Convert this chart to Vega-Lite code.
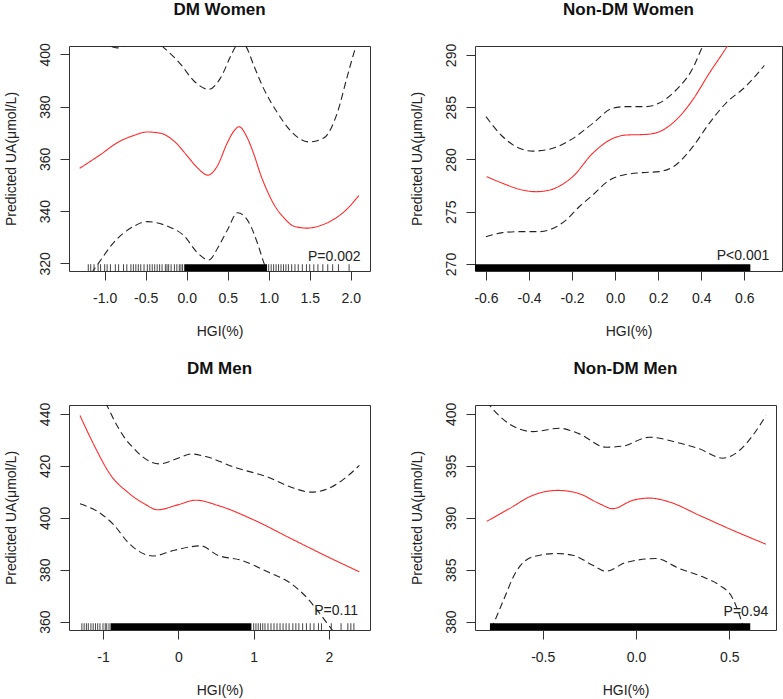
{
  "$schema": "https://vega.github.io/schema/vega-lite/v6.json",
  "padding": {"left": 3, "top": 0, "right": 0, "bottom": 0},
  "background": "white",
  "datasets": {
    "dmw": [
      {"hgi": -1.305, "ua": 356.4, "s": "fit"}, {"hgi": -1.049, "ua": 361.7, "s": "fit"}, {"hgi": -0.846, "ua": 366.2, "s": "fit"}, {"hgi": -0.642, "ua": 369.0, "s": "fit"}, {"hgi": -0.48, "ua": 370.3, "s": "fit"}, {"hgi": -0.317, "ua": 369.8, "s": "fit"}, {"hgi": -0.154, "ua": 366.8, "s": "fit"}, {"hgi": 0.008, "ua": 361.1, "s": "fit"}, {"hgi": 0.13, "ua": 356.6, "s": "fit"}, {"hgi": 0.26, "ua": 353.8, "s": "fit"}, {"hgi": 0.374, "ua": 357.3, "s": "fit"}, {"hgi": 0.496, "ua": 366.2, "s": "fit"}, {"hgi": 0.577, "ua": 370.7, "s": "fit"}, {"hgi": 0.638, "ua": 372.3, "s": "fit"}, {"hgi": 0.74, "ua": 368.0, "s": "fit"}, {"hgi": 0.821, "ua": 361.6, "s": "fit"}, {"hgi": 0.902, "ua": 353.9, "s": "fit"}, {"hgi": 0.984, "ua": 347.6, "s": "fit"}, {"hgi": 1.065, "ua": 342.5, "s": "fit"}, {"hgi": 1.187, "ua": 337.4, "s": "fit"}, {"hgi": 1.309, "ua": 334.2, "s": "fit"}, {"hgi": 1.472, "ua": 333.5, "s": "fit"}, {"hgi": 1.64, "ua": 334.6, "s": "fit"}, {"hgi": 1.8, "ua": 337.0, "s": "fit"}, {"hgi": 1.96, "ua": 341.0, "s": "fit"}, {"hgi": 2.1, "ua": 346.0, "s": "fit"},
      {"hgi": -1.305, "ua": 414, "s": "upper"}, {"hgi": -1.1, "ua": 406.5, "s": "upper"}, {"hgi": -0.95, "ua": 403.4, "s": "upper"}, {"hgi": -0.85, "ua": 402.5, "s": "upper"}, {"hgi": -0.75, "ua": 403.4, "s": "upper"}, {"hgi": -0.6, "ua": 406, "s": "upper"}, {"hgi": -0.45, "ua": 406.5, "s": "upper"}, {"hgi": -0.35, "ua": 404.5, "s": "upper"}, {"hgi": -0.28, "ua": 402.6, "s": "upper"}, {"hgi": -0.073, "ua": 396.2, "s": "upper"}, {"hgi": 0.089, "ua": 389.8, "s": "upper"}, {"hgi": 0.27, "ua": 386.6, "s": "upper"}, {"hgi": 0.415, "ua": 391.1, "s": "upper"}, {"hgi": 0.537, "ua": 399.4, "s": "upper"}, {"hgi": 0.6, "ua": 403.2, "s": "upper"}, {"hgi": 0.66, "ua": 405, "s": "upper"}, {"hgi": 0.72, "ua": 403.2, "s": "upper"}, {"hgi": 0.821, "ua": 395.5, "s": "upper"}, {"hgi": 0.943, "ua": 386.6, "s": "upper"}, {"hgi": 1.106, "ua": 377.7, "s": "upper"}, {"hgi": 1.268, "ua": 370.7, "s": "upper"}, {"hgi": 1.492, "ua": 366.5, "s": "upper"}, {"hgi": 1.675, "ua": 368.1, "s": "upper"}, {"hgi": 1.837, "ua": 377.7, "s": "upper"}, {"hgi": 1.959, "ua": 391.7, "s": "upper"}, {"hgi": 2.06, "ua": 402.6, "s": "upper"}, {"hgi": 2.1, "ua": 406, "s": "upper"},
      {"hgi": -1.305, "ua": 309, "s": "lower"}, {"hgi": -1.2, "ua": 314.5, "s": "lower"}, {"hgi": -1.07, "ua": 320.3, "s": "lower"}, {"hgi": -0.89, "ua": 328, "s": "lower"}, {"hgi": -0.64, "ua": 334.3, "s": "lower"}, {"hgi": -0.48, "ua": 336, "s": "lower"}, {"hgi": -0.24, "ua": 334.3, "s": "lower"}, {"hgi": -0.03, "ua": 330.5, "s": "lower"}, {"hgi": 0.13, "ua": 324.1, "s": "lower"}, {"hgi": 0.27, "ua": 321.3, "s": "lower"}, {"hgi": 0.38, "ua": 326, "s": "lower"}, {"hgi": 0.5, "ua": 333, "s": "lower"}, {"hgi": 0.62, "ua": 339.4, "s": "lower"}, {"hgi": 0.76, "ua": 335.6, "s": "lower"}, {"hgi": 0.86, "ua": 328, "s": "lower"}, {"hgi": 0.94, "ua": 320.3, "s": "lower"}, {"hgi": 1.05, "ua": 311, "s": "lower"}, {"hgi": 1.2, "ua": 305, "s": "lower"}, {"hgi": 1.5, "ua": 300, "s": "lower"}, {"hgi": 1.8, "ua": 302, "s": "lower"}, {"hgi": 2.1, "ua": 308, "s": "lower"}
    ],
    "dmw_rug": [
      {"hgi": -1.2}, {"hgi": -1.17}, {"hgi": -1.13}, {"hgi": -1.08}, {"hgi": -1.05}, {"hgi": -1.0}, {"hgi": -0.97}, {"hgi": -0.93}, {"hgi": -0.87}, {"hgi": -0.83}, {"hgi": -0.77}, {"hgi": -0.73}, {"hgi": -0.68}, {"hgi": -0.65}, {"hgi": -0.62}, {"hgi": -0.59}, {"hgi": -0.56}, {"hgi": -0.52}, {"hgi": -0.48}, {"hgi": -0.45}, {"hgi": -0.42}, {"hgi": -0.39}, {"hgi": -0.36}, {"hgi": -0.33}, {"hgi": -0.3}, {"hgi": -0.26}, {"hgi": -0.24}, {"hgi": -0.22}, {"hgi": -0.19}, {"hgi": -0.15}, {"hgi": -0.12}, {"hgi": -0.09}, {"hgi": -0.07}, {"hgi": -0.05},
      {"hgi": 1.0}, {"hgi": 1.03}, {"hgi": 1.06}, {"hgi": 1.09}, {"hgi": 1.12}, {"hgi": 1.15}, {"hgi": 1.18}, {"hgi": 1.21}, {"hgi": 1.24}, {"hgi": 1.28}, {"hgi": 1.32}, {"hgi": 1.36}, {"hgi": 1.41}, {"hgi": 1.46}, {"hgi": 1.5}, {"hgi": 1.55}, {"hgi": 1.6}, {"hgi": 1.66}, {"hgi": 1.72}, {"hgi": 1.78}, {"hgi": 1.85}, {"hgi": 1.98}
    ],
    "dmw_band": [{"from": -0.03, "to": 0.98}],
    "ndw": [
      {"hgi": -0.597, "ua": 278.36, "s": "fit"}, {"hgi": -0.52, "ua": 277.7, "s": "fit"}, {"hgi": -0.445, "ua": 277.15, "s": "fit"}, {"hgi": -0.368, "ua": 276.92, "s": "fit"}, {"hgi": -0.3, "ua": 277.1, "s": "fit"}, {"hgi": -0.259, "ua": 277.46, "s": "fit"}, {"hgi": -0.197, "ua": 278.36, "s": "fit"}, {"hgi": -0.104, "ua": 280.6, "s": "fit"}, {"hgi": -0.012, "ua": 282.0, "s": "fit"}, {"hgi": 0.05, "ua": 282.34, "s": "fit"}, {"hgi": 0.143, "ua": 282.4, "s": "fit"}, {"hgi": 0.205, "ua": 282.66, "s": "fit"}, {"hgi": 0.283, "ua": 283.78, "s": "fit"}, {"hgi": 0.36, "ua": 285.7, "s": "fit"}, {"hgi": 0.437, "ua": 288.25, "s": "fit"}, {"hgi": 0.522, "ua": 290.9, "s": "fit"}, {"hgi": 0.6, "ua": 293.8, "s": "fit"}, {"hgi": 0.7, "ua": 297.5, "s": "fit"},
      {"hgi": -0.6, "ua": 284.1, "s": "upper"}, {"hgi": -0.523, "ua": 282.2, "s": "upper"}, {"hgi": -0.445, "ua": 281.07, "s": "upper"}, {"hgi": -0.383, "ua": 280.8, "s": "upper"}, {"hgi": -0.29, "ua": 281.07, "s": "upper"}, {"hgi": -0.197, "ua": 282.0, "s": "upper"}, {"hgi": -0.104, "ua": 283.46, "s": "upper"}, {"hgi": -0.012, "ua": 284.9, "s": "upper"}, {"hgi": 0.05, "ua": 285.06, "s": "upper"}, {"hgi": 0.143, "ua": 285.06, "s": "upper"}, {"hgi": 0.205, "ua": 285.4, "s": "upper"}, {"hgi": 0.283, "ua": 286.65, "s": "upper"}, {"hgi": 0.36, "ua": 288.7, "s": "upper"}, {"hgi": 0.406, "ua": 290.8, "s": "upper"}, {"hgi": 0.5, "ua": 294, "s": "upper"}, {"hgi": 0.7, "ua": 301, "s": "upper"},
      {"hgi": -0.6, "ua": 272.6, "s": "lower"}, {"hgi": -0.523, "ua": 273.0, "s": "lower"}, {"hgi": -0.445, "ua": 273.1, "s": "lower"}, {"hgi": -0.352, "ua": 273.1, "s": "lower"}, {"hgi": -0.29, "ua": 273.4, "s": "lower"}, {"hgi": -0.228, "ua": 274.2, "s": "lower"}, {"hgi": -0.166, "ua": 275.5, "s": "lower"}, {"hgi": -0.104, "ua": 276.6, "s": "lower"}, {"hgi": -0.028, "ua": 278.0, "s": "lower"}, {"hgi": 0.034, "ua": 278.5, "s": "lower"}, {"hgi": 0.127, "ua": 278.74, "s": "lower"}, {"hgi": 0.205, "ua": 278.84, "s": "lower"}, {"hgi": 0.283, "ua": 279.5, "s": "lower"}, {"hgi": 0.36, "ua": 281.2, "s": "lower"}, {"hgi": 0.437, "ua": 283.46, "s": "lower"}, {"hgi": 0.515, "ua": 285.4, "s": "lower"}, {"hgi": 0.607, "ua": 287.0, "s": "lower"}, {"hgi": 0.693, "ua": 289.0, "s": "lower"}
    ],
    "ndw_band": [{"from": -0.7, "to": 0.628}],
    "dmm": [
      {"hgi": -1.305, "ua": 439.4, "s": "fit"}, {"hgi": -1.115, "ua": 427.8, "s": "fit"}, {"hgi": -0.894, "ua": 416.3, "s": "fit"}, {"hgi": -0.673, "ua": 409.9, "s": "fit"}, {"hgi": -0.451, "ua": 405.4, "s": "fit"}, {"hgi": -0.274, "ua": 403.1, "s": "fit"}, {"hgi": -0.009, "ua": 405.0, "s": "fit"}, {"hgi": 0.235, "ua": 406.8, "s": "fit"}, {"hgi": 0.522, "ua": 404.8, "s": "fit"}, {"hgi": 1.009, "ua": 399.1, "s": "fit"}, {"hgi": 1.496, "ua": 392.0, "s": "fit"}, {"hgi": 1.982, "ua": 385.0, "s": "fit"}, {"hgi": 2.403, "ua": 379.2, "s": "fit"},
      {"hgi": -1.305, "ua": 458, "s": "upper"}, {"hgi": -1.1, "ua": 449, "s": "upper"}, {"hgi": -0.947, "ua": 443.2, "s": "upper"}, {"hgi": -0.85, "ua": 437.5, "s": "upper"}, {"hgi": -0.717, "ua": 431.0, "s": "upper"}, {"hgi": -0.6, "ua": 427, "s": "upper"}, {"hgi": -0.496, "ua": 424.0, "s": "upper"}, {"hgi": -0.252, "ua": 420.8, "s": "upper"}, {"hgi": 0.035, "ua": 423.4, "s": "upper"}, {"hgi": 0.168, "ua": 424.6, "s": "upper"}, {"hgi": 0.389, "ua": 423.4, "s": "upper"}, {"hgi": 0.743, "ua": 419.5, "s": "upper"}, {"hgi": 1.186, "ua": 415.7, "s": "upper"}, {"hgi": 1.496, "ua": 411.8, "s": "upper"}, {"hgi": 1.761, "ua": 409.9, "s": "upper"}, {"hgi": 1.982, "ua": 411.2, "s": "upper"}, {"hgi": 2.2, "ua": 415, "s": "upper"}, {"hgi": 2.403, "ua": 420.2, "s": "upper"},
      {"hgi": -1.305, "ua": 405.4, "s": "lower"}, {"hgi": -1.027, "ua": 401.6, "s": "lower"}, {"hgi": -0.85, "ua": 397.1, "s": "lower"}, {"hgi": -0.673, "ua": 390.7, "s": "lower"}, {"hgi": -0.407, "ua": 385.6, "s": "lower"}, {"hgi": -0.34, "ua": 385.3, "s": "lower"}, {"hgi": -0.053, "ua": 387.5, "s": "lower"}, {"hgi": 0.3, "ua": 389.2, "s": "lower"}, {"hgi": 0.522, "ua": 385.6, "s": "lower"}, {"hgi": 0.832, "ua": 383.7, "s": "lower"}, {"hgi": 1.186, "ua": 379.2, "s": "lower"}, {"hgi": 1.496, "ua": 374.7, "s": "lower"}, {"hgi": 1.717, "ua": 368.9, "s": "lower"}, {"hgi": 1.894, "ua": 362.5, "s": "lower"}, {"hgi": 2.027, "ua": 357.4, "s": "lower"}, {"hgi": 2.2, "ua": 351, "s": "lower"}, {"hgi": 2.403, "ua": 344, "s": "lower"}
    ],
    "dmm_rug": [
      {"hgi": -1.28}, {"hgi": -1.25}, {"hgi": -1.22}, {"hgi": -1.195}, {"hgi": -1.16}, {"hgi": -1.13}, {"hgi": -1.1}, {"hgi": -1.07}, {"hgi": -1.04}, {"hgi": -1.0}, {"hgi": -0.97}, {"hgi": -0.95}, {"hgi": -0.92},
      {"hgi": 1.0}, {"hgi": 1.03}, {"hgi": 1.06}, {"hgi": 1.09}, {"hgi": 1.12}, {"hgi": 1.15}, {"hgi": 1.19}, {"hgi": 1.23}, {"hgi": 1.27}, {"hgi": 1.31}, {"hgi": 1.35}, {"hgi": 1.39}, {"hgi": 1.43}, {"hgi": 1.47}, {"hgi": 1.52}, {"hgi": 1.56}, {"hgi": 1.6}, {"hgi": 1.65}, {"hgi": 1.7}, {"hgi": 1.75}, {"hgi": 1.8}, {"hgi": 1.86}, {"hgi": 1.9}, {"hgi": 2.03}, {"hgi": 2.16}, {"hgi": 2.25}, {"hgi": 2.29}, {"hgi": 2.33}
    ],
    "dmm_band": [{"from": -0.9, "to": 0.97}],
    "ndm": [
      {"hgi": -0.8, "ua": 389.66, "s": "fit"}, {"hgi": -0.679, "ua": 390.88, "s": "fit"}, {"hgi": -0.554, "ua": 392.16, "s": "fit"}, {"hgi": -0.42, "ua": 392.64, "s": "fit"}, {"hgi": -0.304, "ua": 392.32, "s": "fit"}, {"hgi": -0.196, "ua": 391.36, "s": "fit"}, {"hgi": -0.125, "ua": 390.88, "s": "fit"}, {"hgi": -0.018, "ua": 391.68, "s": "fit"}, {"hgi": 0.071, "ua": 391.9, "s": "fit"}, {"hgi": 0.179, "ua": 391.52, "s": "fit"}, {"hgi": 0.339, "ua": 390.24, "s": "fit"}, {"hgi": 0.518, "ua": 388.8, "s": "fit"}, {"hgi": 0.696, "ua": 387.46, "s": "fit"},
      {"hgi": -0.8, "ua": 401.2, "s": "upper"}, {"hgi": -0.768, "ua": 400.48, "s": "upper"}, {"hgi": -0.679, "ua": 399.04, "s": "upper"}, {"hgi": -0.554, "ua": 398.3, "s": "upper"}, {"hgi": -0.411, "ua": 398.62, "s": "upper"}, {"hgi": -0.304, "ua": 398.08, "s": "upper"}, {"hgi": -0.161, "ua": 396.8, "s": "upper"}, {"hgi": -0.071, "ua": 396.9, "s": "upper"}, {"hgi": 0.071, "ua": 397.76, "s": "upper"}, {"hgi": 0.214, "ua": 397.28, "s": "upper"}, {"hgi": 0.339, "ua": 396.64, "s": "upper"}, {"hgi": 0.464, "ua": 395.74, "s": "upper"}, {"hgi": 0.554, "ua": 396.48, "s": "upper"}, {"hgi": 0.625, "ua": 397.92, "s": "upper"}, {"hgi": 0.696, "ua": 399.84, "s": "upper"},
      {"hgi": -0.8, "ua": 378.3, "s": "lower"}, {"hgi": -0.759, "ua": 380.0, "s": "lower"}, {"hgi": -0.714, "ua": 381.92, "s": "lower"}, {"hgi": -0.643, "ua": 384.8, "s": "lower"}, {"hgi": -0.554, "ua": 386.24, "s": "lower"}, {"hgi": -0.429, "ua": 386.56, "s": "lower"}, {"hgi": -0.339, "ua": 386.4, "s": "lower"}, {"hgi": -0.232, "ua": 385.44, "s": "lower"}, {"hgi": -0.161, "ua": 384.86, "s": "lower"}, {"hgi": -0.054, "ua": 385.7, "s": "lower"}, {"hgi": 0.107, "ua": 386.08, "s": "lower"}, {"hgi": 0.232, "ua": 385.12, "s": "lower"}, {"hgi": 0.357, "ua": 384.32, "s": "lower"}, {"hgi": 0.446, "ua": 383.52, "s": "lower"}, {"hgi": 0.518, "ua": 382.24, "s": "lower"}, {"hgi": 0.554, "ua": 380.64, "s": "lower"}, {"hgi": 0.6, "ua": 378, "s": "lower"}, {"hgi": 0.696, "ua": 373, "s": "lower"}
    ],
    "ndm_band": [{"from": -0.783, "to": 0.612}]
  },
  "columns": 2,
  "spacing": {"row": 134, "column": 105},
  "bounds": "flush",
  "concat": [
    {
      "width": 301, "height": 225,
      "title": "DM Women",
      "layer": [
        {
          "data": {"name": "dmw"},
          "mark": {"type": "line", "clip": true, "interpolate": "monotone", "strokeWidth": 1.1},
          "encoding": {
            "x": {"field": "hgi", "type": "quantitative", "scale": {"domain": [-1.435, 2.235], "nice": false, "zero": false}, "axis": {"values": [-1, -0.5, 0, 0.5, 1, 1.5, 2], "labelExpr": "replace(format(datum.value, '.1f'), '\u2212', '-')", "title": "HGI(%)"}},
            "y": {"field": "ua", "type": "quantitative", "scale": {"domain": [317.1, 403.2], "nice": false, "zero": false}, "axis": {"values": [320, 340, 360, 380, 400], "title": "Predicted UA(μmol/L)"}},
            "color": {"field": "s", "type": "nominal", "scale": {"domain": ["fit", "lower", "upper"], "range": ["#ff2a2a", "#222222", "#222222"]}, "legend": null},
            "strokeDash": {"field": "s", "type": "nominal", "scale": {"domain": ["fit", "lower", "upper"], "range": [[1, 0], [7, 4], [7, 4]]}, "legend": null}
          }
        },
        {
          "data": {"name": "dmw_band"},
          "mark": {"type": "rect", "color": "#000", "clip": true},
          "encoding": {"x": {"field": "from", "type": "quantitative"}, "x2": {"field": "to"}, "y": {"datum": 317.1, "type": "quantitative"}, "y2": {"datum": 319.7}}
        },
        {
          "data": {"name": "dmw_rug"},
          "mark": {"type": "rule", "color": "#444", "strokeWidth": 1, "clip": true},
          "encoding": {"x": {"field": "hgi", "type": "quantitative"}, "y": {"datum": 317.1, "type": "quantitative"}, "y2": {"datum": 319.7}}
        },
        {
          "data": {"values": [{"p": "P=0.002"}]},
          "mark": {"type": "text", "align": "right", "baseline": "alphabetic", "fontSize": 14, "color": "#222"},
          "encoding": {"x": {"datum": 2.12, "type": "quantitative"}, "y": {"datum": 321.1, "type": "quantitative"}, "text": {"field": "p"}}
        }
      ]
    },
    {
      "width": 307, "height": 225,
      "title": "Non-DM Women",
      "layer": [
        {
          "data": {"name": "ndw"},
          "mark": {"type": "line", "clip": true, "interpolate": "monotone", "strokeWidth": 1.1},
          "encoding": {
            "x": {"field": "hgi", "type": "quantitative", "scale": {"domain": [-0.651, 0.775], "nice": false, "zero": false}, "axis": {"values": [-0.6, -0.4, -0.2, 0, 0.2, 0.4, 0.6], "labelExpr": "replace(format(datum.value, '.1f'), '\u2212', '-')", "title": "HGI(%)"}},
            "y": {"field": "ua", "type": "quantitative", "scale": {"domain": [269.33, 290.86], "nice": false, "zero": false}, "axis": {"values": [270, 275, 280, 285, 290], "title": "Predicted UA(μmol/L)"}},
            "color": {"field": "s", "type": "nominal", "scale": {"domain": ["fit", "lower", "upper"], "range": ["#ff2a2a", "#222222", "#222222"]}, "legend": null},
            "strokeDash": {"field": "s", "type": "nominal", "scale": {"domain": ["fit", "lower", "upper"], "range": [[1, 0], [7, 4], [7, 4]]}, "legend": null}
          }
        },
        {
          "data": {"name": "ndw_band"},
          "mark": {"type": "rect", "color": "#000", "clip": true},
          "encoding": {"x": {"field": "from", "type": "quantitative"}, "x2": {"field": "to"}, "y": {"datum": 269.33, "type": "quantitative"}, "y2": {"datum": 269.98}}
        },
        {
          "data": {"values": [{"p": "P<0.001"}]},
          "mark": {"type": "text", "align": "right", "baseline": "alphabetic", "fontSize": 14, "color": "#222"},
          "encoding": {"x": {"datum": 0.716, "type": "quantitative"}, "y": {"datum": 270.4, "type": "quantitative"}, "text": {"field": "p"}}
        }
      ]
    },
    {
      "width": 301, "height": 225,
      "title": "DM Men",
      "layer": [
        {
          "data": {"name": "dmm"},
          "mark": {"type": "line", "clip": true, "interpolate": "monotone", "strokeWidth": 1.1},
          "encoding": {
            "x": {"field": "hgi", "type": "quantitative", "scale": {"domain": [-1.451, 2.544], "nice": false, "zero": false}, "axis": {"values": [-1, 0, 1, 2], "labelExpr": "replace(format(datum.value, 'd'), '\u2212', '-')", "title": "HGI(%)"}},
            "y": {"field": "ua", "type": "quantitative", "scale": {"domain": [356.8, 443.46], "nice": false, "zero": false}, "axis": {"values": [360, 380, 400, 420, 440], "title": "Predicted UA(μmol/L)"}},
            "color": {"field": "s", "type": "nominal", "scale": {"domain": ["fit", "lower", "upper"], "range": ["#ff2a2a", "#222222", "#222222"]}, "legend": null},
            "strokeDash": {"field": "s", "type": "nominal", "scale": {"domain": ["fit", "lower", "upper"], "range": [[1, 0], [7, 4], [7, 4]]}, "legend": null}
          }
        },
        {
          "data": {"name": "dmm_band"},
          "mark": {"type": "rect", "color": "#000", "clip": true},
          "encoding": {"x": {"field": "from", "type": "quantitative"}, "x2": {"field": "to"}, "y": {"datum": 356.8, "type": "quantitative"}, "y2": {"datum": 359.4}}
        },
        {
          "data": {"name": "dmm_rug"},
          "mark": {"type": "rule", "color": "#444", "strokeWidth": 1, "clip": true},
          "encoding": {"x": {"field": "hgi", "type": "quantitative"}, "y": {"datum": 356.8, "type": "quantitative"}, "y2": {"datum": 359.4}}
        },
        {
          "data": {"values": [{"p": "P=0.11"}]},
          "mark": {"type": "text", "align": "right", "baseline": "alphabetic", "fontSize": 14, "color": "#222"},
          "encoding": {"x": {"datum": 2.385, "type": "quantitative"}, "y": {"datum": 362.7, "type": "quantitative"}, "text": {"field": "p"}}
        }
      ]
    },
    {
      "width": 301, "height": 225,
      "title": "Non-DM Men",
      "layer": [
        {
          "data": {"name": "ndm"},
          "mark": {"type": "line", "clip": true, "interpolate": "monotone", "strokeWidth": 1.1},
          "encoding": {
            "x": {"field": "hgi", "type": "quantitative", "scale": {"domain": [-0.863, 0.75], "nice": false, "zero": false}, "axis": {"values": [-0.5, 0, 0.5], "labelExpr": "replace(format(datum.value, '.1f'), '\u2212', '-')", "title": "HGI(%)"}},
            "y": {"field": "ua", "type": "quantitative", "scale": {"domain": [379.2, 400.86], "nice": false, "zero": false}, "axis": {"values": [380, 385, 390, 395, 400], "title": "Predicted UA(μmol/L)"}},
            "color": {"field": "s", "type": "nominal", "scale": {"domain": ["fit", "lower", "upper"], "range": ["#ff2a2a", "#222222", "#222222"]}, "legend": null},
            "strokeDash": {"field": "s", "type": "nominal", "scale": {"domain": ["fit", "lower", "upper"], "range": [[1, 0], [7, 4], [7, 4]]}, "legend": null}
          }
        },
        {
          "data": {"name": "ndm_band"},
          "mark": {"type": "rect", "color": "#000", "clip": true},
          "encoding": {"x": {"field": "from", "type": "quantitative"}, "x2": {"field": "to"}, "y": {"datum": 379.2, "type": "quantitative"}, "y2": {"datum": 379.85}}
        },
        {
          "data": {"values": [{"p": "P=0.94"}]},
          "mark": {"type": "text", "align": "right", "baseline": "alphabetic", "fontSize": 14, "color": "#222"},
          "encoding": {"x": {"datum": 0.709, "type": "quantitative"}, "y": {"datum": 380.5, "type": "quantitative"}, "text": {"field": "p"}}
        }
      ]
    }
  ],
  "config": {
    "font": "Liberation Sans",
    "view": {"stroke": "#333333", "strokeWidth": 1},
    "axis": {"domain": false, "grid": false, "ticks": true, "tickSize": 9, "tickColor": "#333333", "tickWidth": 1, "labelFont": "Liberation Sans", "labelFontSize": 14, "labelColor": "#222222", "titleFont": "Liberation Sans", "titleFontSize": 14, "titleFontWeight": "normal", "titleColor": "#222222", "labelFlush": false, "labelOverlap": false},
    "axisX": {"labelPadding": 22, "labelBaseline": "alphabetic", "titleY": 64, "titleBaseline": "alphabetic"},
    "axisY": {"labelAngle": 270, "labelAlign": "center", "labelBaseline": "alphabetic", "labelPadding": 11, "titleX": -54, "titleBaseline": "alphabetic", "titleAngle": 270},
    "title": {"font": "Liberation Sans", "fontSize": 17, "fontWeight": "bold", "color": "#111111", "anchor": "middle", "frame": "group", "offset": 24, "baseline": "alphabetic"}
  }
}
